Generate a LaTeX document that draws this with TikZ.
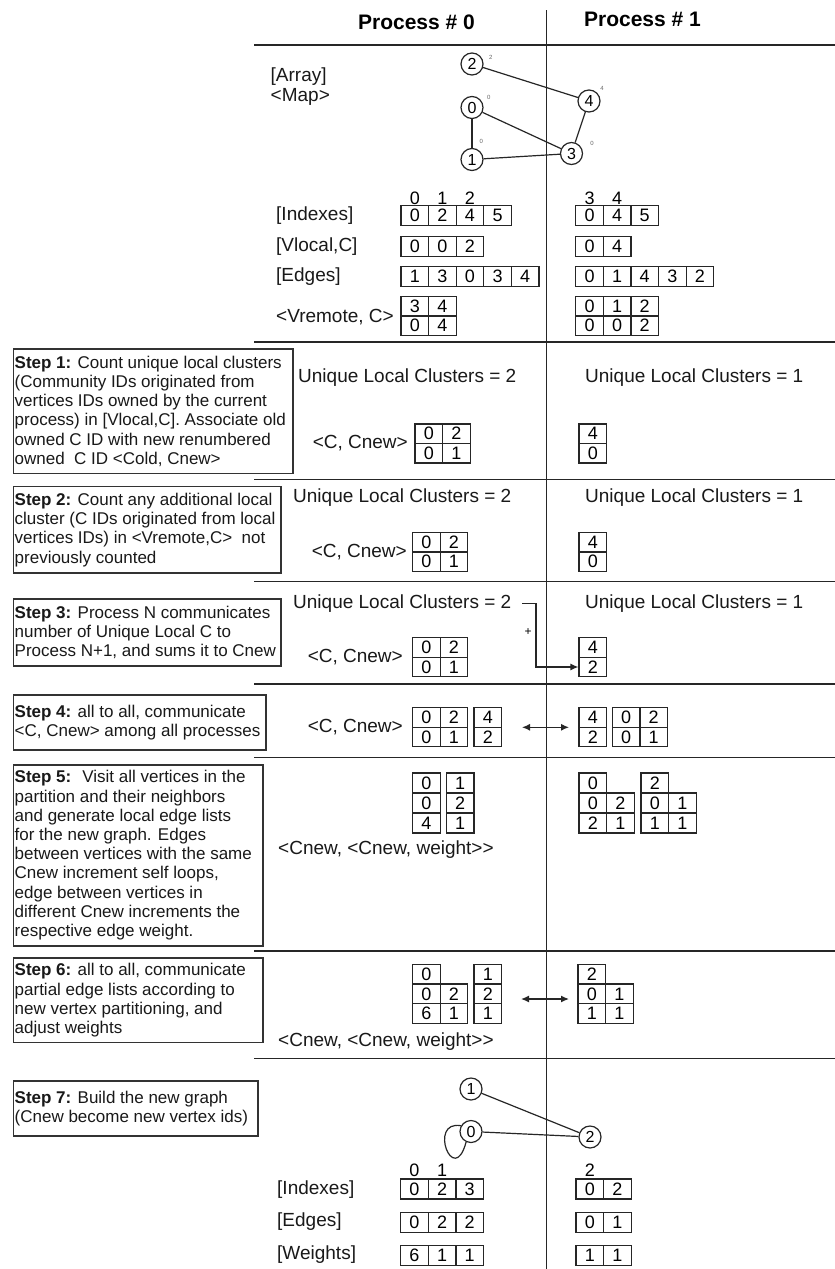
\documentclass[tikz,border=0pt]{standalone}
\usepackage{fontspec}
\setmainfont{Liberation Sans}
\usetikzlibrary{arrows.meta}
\newcommand\cellrow[5]{%
  \foreach \v [count=\i] in {#4} {\node[cell, minimum height=#5pt] (#1\i) at ({#2+(\i-0.5)*27.6}, {-(#3)}) {\v};}}
\begin{document}
\begin{tikzpicture}[x=1pt,y=1pt,
 sec/.style={line width=1.6pt, draw=black!85},
 vsep/.style={line width=1.3pt, draw=black!85},
 stepbox/.style={draw=black!80, line width=1.6pt, inner sep=0pt},
 steptext/.style={align=left, inner sep=0pt, font=\fontsize{17}{19.2}\selectfont, text=black!90},
 lbl/.style={inner sep=0pt, font=\fontsize{19}{22}\selectfont, text=black!90},
 hdr/.style={inner sep=0pt, font=\fontsize{21}{24}\selectfont\bfseries},
 cell/.style={draw=black!85, line width=1.2pt, minimum width=27.6pt, inner sep=0pt, font=\fontsize{18}{18}\selectfont},
 idx/.style={inner sep=0pt, font=\fontsize{18}{18}\selectfont, anchor=base},
 vtx/.style={circle, draw=black!85, line width=1.2pt, minimum size=22pt, inner sep=0pt, font=\fontsize{16}{16}\selectfont},
 tinylbl/.style={inner sep=0pt, font=\fontsize{6}{6}\selectfont, text=black!60},
 edge/.style={line width=1.2pt, draw=black!85},
 arr/.style={line width=1.2pt, draw=black!85, -{Latex[length=8pt,width=7pt]}},
 darr/.style={line width=1.3pt, draw=black!85, {Latex[length=8pt,width=7pt]}-{Latex[length=8pt,width=7pt]}},
]
\useasboundingbox (0,0) rectangle (835,-1269);
\fill[white] (0,0) rectangle (835,-1269);

% separators
\draw[vsep] (546.6,-10) -- (546.6,-1269);
\foreach \yy in {45,342,479.5,581.5,684,757.3,951,1058.3} {\draw[sec] (254,-\yy) -- (835,-\yy);}

% headers
\node[hdr] (p0) at (416.5,-22.7) {Process \# 0};
\node[hdr] (p1) at (642.5,-19.3) {Process \# 1};

% original graph
\node[lbl, anchor=west] (arr) at (270.5,-76.7) {[Array]};
\node[lbl, anchor=west] (map) at (270.5,-97.3) {<Map>};
\node[vtx] (a2) at (472,-64) {2};
\node[vtx] (a0) at (472,-107.5) {0};
\node[vtx] (a1) at (472,-159.5) {1};
\node[vtx] (a3) at (571.5,-153.5) {3};
\node[vtx] (a4) at (589,-101) {4};
\draw[edge] (a2) -- (a4);
\draw[edge] (a0) -- (a3);
\draw[edge] (a0) -- (a1);
\draw[edge] (a1) -- (a3);
\draw[edge] (a4) -- (a3);
\node[tinylbl] (t2) at (490.7,-57.3) {2};
\node[tinylbl] (t0) at (488.8,-97.3) {0};
\node[tinylbl] (t1) at (481.3,-141.7) {0};
\node[tinylbl] (t3) at (592,-143.3) {0};
\node[tinylbl] (t4) at (602,-88.3) {4};

% CSR arrays
\node[idx] (i0) at (414.8,-204.5) {0};
\node[idx] (i1) at (442.4,-204.5) {1};
\node[idx] (i2) at (470,-204.5) {2};
\node[idx] (i3) at (589.5,-204.5) {3};
\node[idx] (i4) at (617.1,-204.5) {4};
\node[lbl, anchor=west] (lix) at (276,-216) {[Indexes]};
\node[lbl, anchor=west] (lvl) at (276,-246.7) {[Vlocal,C]};
\node[lbl, anchor=west] (led) at (276,-276.5) {[Edges]};
\node[lbl, anchor=west] (lvr) at (276,-316.7) {<Vremote, C>};
\cellrow{ixl}{401}{215.7}{0,2,4,5}{20}
\cellrow{vll}{401}{246.7}{0,0,2}{20}
\cellrow{egl}{401}{276.7}{1,3,0,3,4}{20}
\cellrow{vrla}{401}{306.3}{3,4}{19.3}
\cellrow{vrlb}{401}{325.6}{0,4}{19.3}
\cellrow{ixr}{575.7}{215.7}{0,4,5}{20}
\cellrow{vlr}{575.7}{246.7}{0,4}{20}
\cellrow{egr}{575.7}{276.7}{0,1,4,3,2}{20}
\cellrow{vrra}{575.7}{306.3}{0,1,2}{19.3}
\cellrow{vrrb}{575.7}{325.6}{0,0,2}{19.3}

% Step 1
\node[stepbox, anchor=north west, minimum width=279.5pt, minimum height=124.7pt] (s1) at (12.5,-348) {};
\node[steptext, anchor=west] (s1t) at ([xshift=2pt]s1.west) {{\bfseries Step 1:} Count unique local clusters\\(Community IDs originated from\\vertices IDs owned by the current\\process) in [Vlocal,C]. Associate old\\owned C ID with new renumbered\\owned~ C ID <Cold, Cnew>};
\node[lbl, anchor=west] (u1l) at (298,-377.3) {Unique Local Clusters = 2};
\node[lbl, anchor=west] (u1r) at (585,-377.3) {Unique Local Clusters = 1};
\cellrow{c1a}{415}{433.7}{0,2}{19.5}
\cellrow{c1b}{415}{453.3}{0,1}{19.5}
\node[lbl, anchor=east] (cc1) at (408,-443.5) {<C, Cnew>};
\cellrow{r1a}{579}{433.7}{4}{19.5}
\cellrow{r1b}{579}{453.3}{0}{19.5}

% Step 2
\node[stepbox, anchor=north west, minimum width=267.5pt, minimum height=86.6pt] (s2) at (12.5,-485.7) {};
\node[steptext, anchor=west] (s2t) at ([xshift=2pt]s2.west) {{\bfseries Step 2:} Count any additional local\\cluster (C IDs originated from local\\vertices IDs) in <Vremote,C>~ not\\previously counted};
\node[lbl, anchor=west] (u2l) at (293,-497.3) {Unique Local Clusters = 2};
\node[lbl, anchor=west] (u2r) at (585,-497.3) {Unique Local Clusters = 1};
\cellrow{c2a}{412.5}{542}{0,2}{19.5}
\cellrow{c2b}{412.5}{561.7}{0,1}{19.5}
\node[lbl, anchor=east] (cc2) at (407,-552) {<C, Cnew>};
\cellrow{r2a}{579}{542}{4}{19.5}
\cellrow{r2b}{579}{561.7}{0}{19.5}

% Step 3
\node[stepbox, anchor=north west, minimum width=267.5pt, minimum height=67pt] (s3) at (12.5,-598) {};
\node[steptext, anchor=west] (s3t) at ([xshift=2pt]s3.west) {{\bfseries Step 3:} Process N communicates\\number of Unique Local C to\\Process N+1, and sums it to Cnew};
\node[lbl, anchor=west] (u3l) at (293,-603.3) {Unique Local Clusters = 2};
\node[lbl, anchor=west] (u3r) at (585,-603.3) {Unique Local Clusters = 1};
\cellrow{c3a}{412.5}{647.4}{0,2}{19.5}
\cellrow{c3b}{412.5}{667}{0,1}{19.5}
\node[lbl, anchor=east] (cc3) at (403,-657) {<C, Cnew>};
\cellrow{r3a}{579}{647.4}{4}{19.5}
\cellrow{r3b}{579}{667}{2}{19.5}
\coordinate (k3) at (536,-603.3);
\draw[arr] ([xshift=11pt]u3l.east) -- (u3l.east -| k3) |- (r3b1.west);
\node[inner sep=0pt, font=\fontsize{12}{12}\selectfont] (plus) at (528,-631.7) {+};

% Step 4
\node[stepbox, anchor=north west, minimum width=252.5pt, minimum height=55.3pt] (s4) at (12.5,-694) {};
\node[steptext, anchor=west] (s4t) at ([xshift=2pt]s4.west) {{\bfseries Step 4:} all to all, communicate\\<C, Cnew> among all processes};
\cellrow{c4a}{412.5}{717.5}{0,2}{19.5}
\cellrow{c4b}{412.5}{737}{0,1}{19.5}
\cellrow{c4c}{474}{717.5}{4}{19.5}
\cellrow{c4d}{474}{737}{2}{19.5}
\node[lbl, anchor=east] (cc4) at (403,-727.3) {<C, Cnew>};
\cellrow{r4a}{579}{717.5}{4}{19.5}
\cellrow{r4b}{579}{737}{2}{19.5}
\cellrow{r4c}{612.3}{717.5}{0,2}{19.5}
\cellrow{r4d}{612.3}{737}{0,1}{19.5}
\coordinate (d4a) at (522,-727.3);
\coordinate (d4b) at (569,-727.3);
\draw[darr] (d4a) -- (d4b);

% Step 5
\node[stepbox, anchor=north west, minimum width=249.5pt, minimum height=181pt] (s5) at (12.5,-764) {};
\node[steptext, anchor=west] (s5t) at ([xshift=2pt]s5.west) {{\bfseries Step 5:}~ Visit all vertices in the\\partition and their neighbors\\and generate local edge lists\\for the new graph. Edges\\between vertices with the same\\Cnew increment self loops,\\edge between vertices in\\different Cnew increments the\\respective edge weight.};
\cellrow{c5a}{412.5}{783}{0}{20}
\cellrow{c5b}{412.5}{803}{0}{20}
\cellrow{c5c}{412.5}{823}{4}{20}
\cellrow{c5d}{446.4}{783}{1}{20}
\cellrow{c5e}{446.4}{803}{2}{20}
\cellrow{c5f}{446.4}{823}{1}{20}
\node[lbl, anchor=west] (w5) at (278,-849.3) {<Cnew, <Cnew, weight>{}>};
\cellrow{r5a}{579}{783}{0}{20}
\cellrow{r5b}{579}{803}{0,2}{20}
\cellrow{r5c}{579}{823}{2,1}{20}
\cellrow{r5d}{641}{783}{2}{20}
\cellrow{r5e}{641}{803}{0,1}{20}
\cellrow{r5f}{641}{823}{1,1}{20}

% Step 6
\node[stepbox, anchor=north west, minimum width=249.5pt, minimum height=84.4pt] (s6) at (12.5,-957.3) {};
\node[steptext, anchor=west] (s6t) at ([xshift=2pt]s6.west) {{\bfseries Step 6:} all to all, communicate\\partial edge lists according to\\new vertex partitioning, and\\adjust weights};
\cellrow{c6a}{412.5}{974}{0}{19.8}
\cellrow{c6b}{412.5}{993.8}{0,2}{19.8}
\cellrow{c6c}{412.5}{1013.6}{6,1}{19.8}
\cellrow{c6d}{474}{974}{1}{19.8}
\cellrow{c6e}{474}{993.8}{2}{19.8}
\cellrow{c6f}{474}{1013.6}{1}{19.8}
\node[lbl, anchor=west] (w6) at (278,-1041.7) {<Cnew, <Cnew, weight>{}>};
\cellrow{r6a}{578}{974}{2}{19.8}
\cellrow{r6b}{578}{993.8}{0,1}{19.8}
\cellrow{r6c}{578}{1013.6}{1,1}{19.8}
\coordinate (d6a) at (521,-999);
\coordinate (d6b) at (569,-999);
\draw[darr] (d6a) -- (d6b);

% Step 7
\node[stepbox, anchor=north west, minimum width=244.5pt, minimum height=55pt] (s7) at (12.5,-1080) {};
\node[steptext, anchor=west] (s7t) at ([xshift=2pt]s7.west) {{\bfseries Step 7:} Build the new graph\\(Cnew become new vertex ids)};
\node[vtx] (b1) at (471,-1089) {1};
\node[vtx] (b0) at (471,-1131.5) {0};
\node[vtx] (b2) at (590,-1137) {2};
\draw[edge] (b1) -- (b2);
\draw[edge] (b0) -- (b2);
\draw[edge] (b0.150) .. controls +(170:34) and +(255:48) .. (b0.245);
\node[idx] (j0) at (414.5,-1176.4) {0};
\node[idx] (j1) at (442.1,-1176.4) {1};
\node[idx] (j2) at (589.8,-1176.4) {2};
\node[lbl, anchor=west] (mix) at (277,-1190) {[Indexes]};
\node[lbl, anchor=west] (med) at (277,-1221.7) {[Edges]};
\node[lbl, anchor=west] (mwt) at (277,-1255) {[Weights]};
\cellrow{nixl}{400.7}{1189}{0,2,3}{20}
\cellrow{negl}{400.7}{1222.2}{0,2,2}{20}
\cellrow{nwtl}{400.7}{1255.5}{6,1,1}{20}
\cellrow{nixr}{576}{1189}{0,2}{20}
\cellrow{negr}{576}{1222.2}{0,1}{20}
\cellrow{nwtr}{576}{1255.5}{1,1}{20}
\end{tikzpicture}
\end{document}
